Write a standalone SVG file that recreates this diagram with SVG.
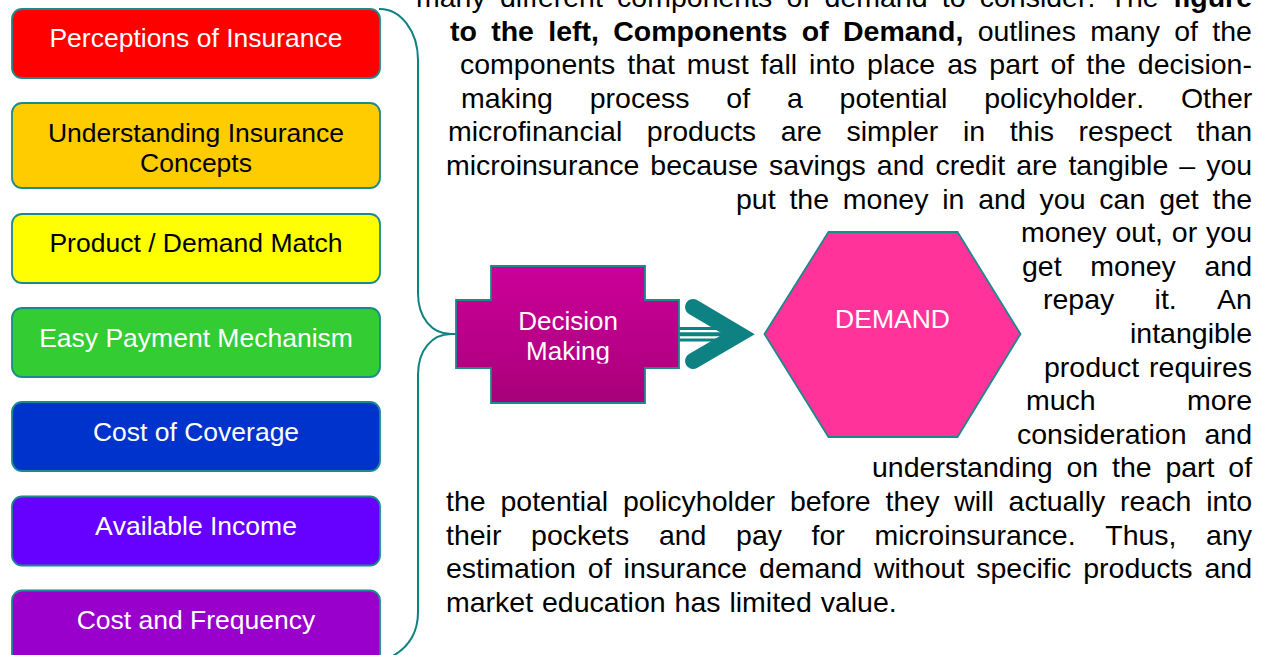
<svg xmlns="http://www.w3.org/2000/svg" width="1262" height="655" viewBox="0 0 1262 655">
<style>
.box{stroke:#1A8A8A;stroke-width:1.8}
.lbl{font-family:"Liberation Sans",Arial,sans-serif;font-size:26.5px;text-anchor:middle;font-kerning:none}
.w{fill:#FFFFFF}
.k{fill:#000000}
.body{font-family:"Liberation Sans",Arial,sans-serif;font-size:28.5px;fill:#000000;font-kerning:none}
.b{font-weight:bold}
.con{fill:none;stroke:#0E8282;stroke-width:2}
</style>
<defs>
<linearGradient id="gDec" x1="0" y1="0" x2="0" y2="1">
<stop offset="0" stop-color="#CC0099"/>
<stop offset="1" stop-color="#A8007A"/>
</linearGradient>
<clipPath id="clipDec"><rect x="456" y="266" width="223" height="97.5"/></clipPath>
</defs>
<rect width="1262" height="655" fill="#FFFFFF"/>

<g id="connectors">
<path class="con" d="M379,9 A38,51 0 0 1 418,60 L418,293 C418,318 432,334 451,334 C432,334 418,350 418,375 L418,612 C418,634 408,648 391,657"/>
<line class="con" x1="450" y1="334" x2="457" y2="334"/>
<g id="arrow">
<line x1="679" y1="328.5" x2="724" y2="328.5" stroke="#0E8282" stroke-width="3"/>
<line x1="679" y1="334.2" x2="724" y2="334.2" stroke="#0E8282" stroke-width="4"/>
<line x1="679" y1="340" x2="724" y2="340" stroke="#0E8282" stroke-width="3"/>
<polyline points="693,307 739,334.2 693,361" fill="none" stroke="#0E8282" stroke-width="16" stroke-linecap="round" stroke-linejoin="miter" stroke-miterlimit="6"/>
</g>
</g>

<g id="n-perceptions">
<rect class="box" x="12" y="9" width="368" height="69" rx="10" fill="#FF0000"/>
<text class="lbl w" x="196" y="47">Perceptions of Insurance</text>
</g>
<g id="n-understanding">
<rect class="box" x="12" y="103" width="368" height="85" rx="10" fill="#FFCC00"/>
<text class="lbl k" x="196" y="141.7">Understanding Insurance</text>
<text class="lbl k" x="196" y="171.7">Concepts</text>
</g>
<g id="n-product">
<rect class="box" x="12" y="214" width="368" height="69" rx="10" fill="#FFFF00"/>
<text class="lbl k" x="196" y="252">Product / Demand Match</text>
</g>
<g id="n-payment">
<rect class="box" x="12" y="308" width="368" height="69" rx="10" fill="#33CC33"/>
<text class="lbl w" x="196" y="346.7">Easy Payment Mechanism</text>
</g>
<g id="n-cost">
<rect class="box" x="12" y="402" width="368" height="69" rx="10" fill="#0033CC"/>
<text class="lbl w" x="196" y="440.5">Cost of Coverage</text>
</g>
<g id="n-income">
<rect class="box" x="12" y="496.5" width="368" height="69" rx="10" fill="#6600FF"/>
<text class="lbl w" x="196" y="535">Available Income</text>
</g>
<g id="n-frequency">
<rect class="box" x="12" y="590.5" width="368" height="75" rx="10" fill="#9900CC"/>
<text class="lbl w" x="196" y="628.7">Cost and Frequency</text>
</g>

<g id="n-decision">
<path class="box" d="M491,266 H645 V300 H679 V368 H645 V403 H491 V368 H456 V300 H491 Z" fill="url(#gDec)"/>
<g clip-path="url(#clipDec)">
<text class="lbl w" x="568" y="330" style="font-size:26px">Decision</text>
<text class="lbl w" x="568" y="360" style="font-size:26px">Making</text>
</g>
</g>

<g id="n-demand">
<polygon class="box" points="764.5,334 828.5,232 957.5,232 1020.5,334 957.5,437 828.5,437" fill="#FF3399"/>
<text class="lbl w" x="892.5" y="328">DEMAND</text>
</g>

<g id="bodytext" class="body">
<text x="416" y="7" word-spacing="6.29">many different components of demand to consider. The <tspan class="b">figure</tspan></text>
<text x="450" y="40.6" word-spacing="6.4"><tspan class="b">to the left, Components of Demand,</tspan> outlines many of the</text>
<text x="460" y="74.2" word-spacing="4.1">components that must fall into place as part of the decision-</text>
<text x="461" y="107.8" word-spacing="28.9">making process of a potential policyholder. Other</text>
<text x="448" y="141.4" word-spacing="16.66">microfinancial products are simpler in this respect than</text>
<text x="446" y="175" word-spacing="3.14">microinsurance because savings and credit are tangible – you</text>
<text x="736" y="208.6" word-spacing="5.9">put the money in and you can get the</text>
<text x="1021" y="242.2" word-spacing="0.97">money out, or you</text>
<text x="1022" y="275.8" word-spacing="20.75">get money and</text>
<text x="1043" y="309.4" word-spacing="32.4">repay it. An</text>
<text x="1252" y="343" text-anchor="end">intangible</text>
<text x="1044" y="376.6" word-spacing="2.1">product requires</text>
<text x="1026" y="410.2" word-spacing="83.5">much more</text>
<text x="1017" y="443.8" word-spacing="10">consideration and</text>
<text x="872" y="477.4" word-spacing="5.9">understanding on the part of</text>
<text x="446" y="511" word-spacing="6.9">the potential policyholder before they will actually reach into</text>
<text x="446" y="544.6" word-spacing="21.69">their pockets and pay for microinsurance. Thus, any</text>
<text x="446" y="578.2" word-spacing="4.03">estimation of insurance demand without specific products and</text>
<text x="446" y="611.8" word-spacing="1">market education has limited value.</text>
</g>
</svg>
